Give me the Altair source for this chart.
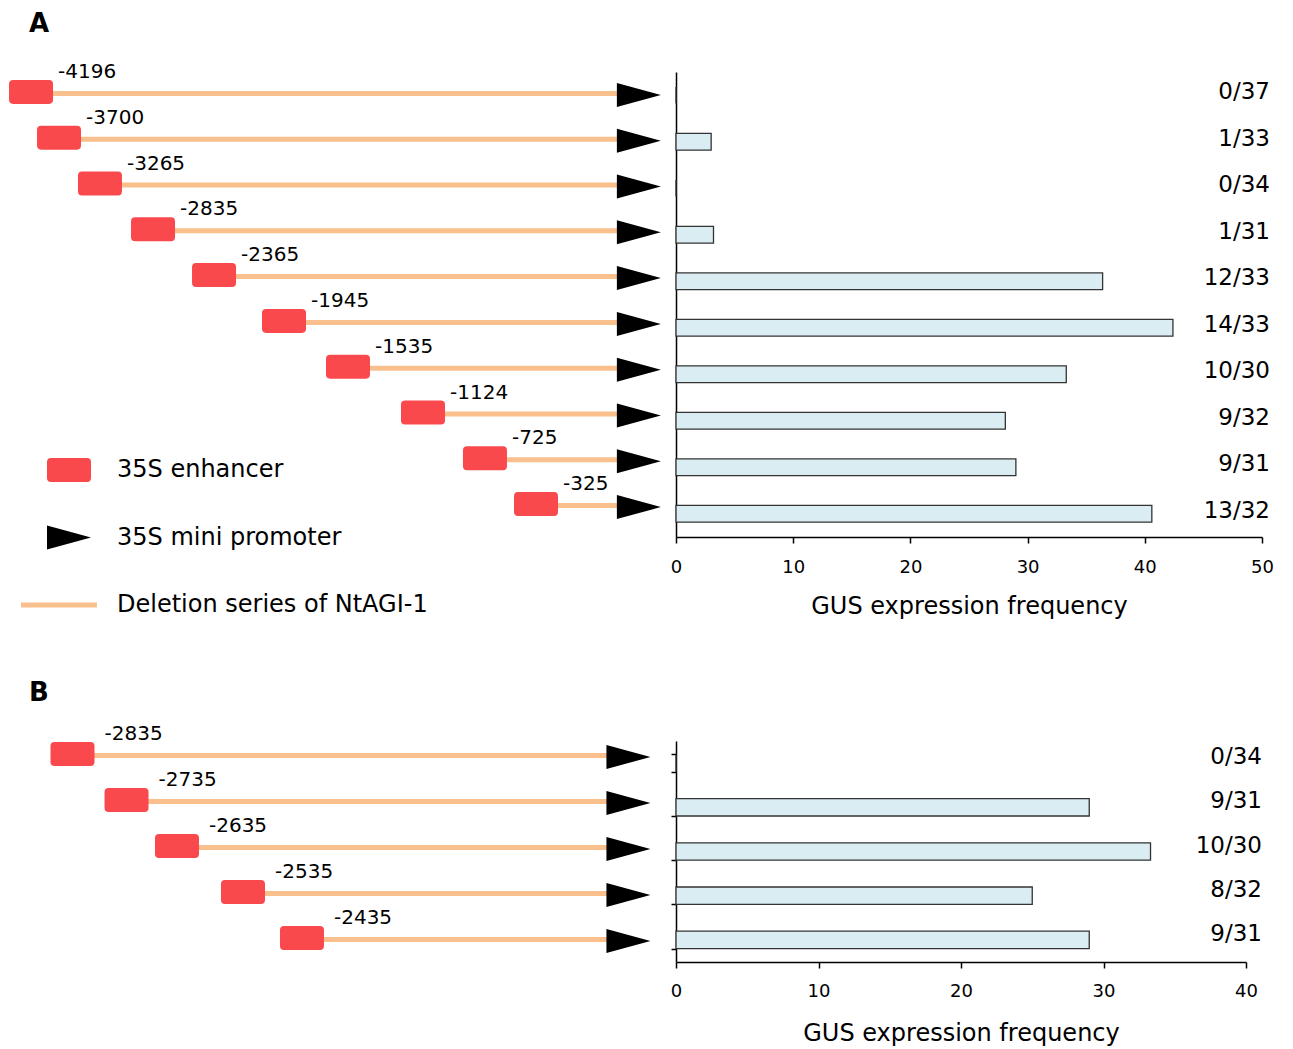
import altair as alt
import pandas as pd

FONT = "DejaVu Sans"

# ---------------- data ----------------
# Panel A: deletion series
a_rows = ["-4196", "-3700", "-3265", "-2835", "-2365", "-1945", "-1535", "-1124", "-725", "-325"]
a_enh_pos = [3.23, 7.53, 13.82, 21.97, 31.34, 42.09, 51.92, 63.44, 72.96, 80.80]   # schematic position of enhancer
a_arrow_pos = 96.6                                                                  # schematic position of promoter
a_fracs = ["0/37", "1/33", "0/34", "1/31", "12/33", "14/33", "10/30", "9/32", "9/31", "13/32"]
a_freq = [0, 3.0, 0, 3.2, 36.4, 42.4, 33.3, 28.1, 29.0, 40.6]

# Panel B: fine deletion series
b_rows = ["-2835", "-2735", "-2635", "-2535", "-2435"]
b_enh_pos = [9.60, 17.90, 25.65, 35.79, 44.85]
b_arrow_pos = 95.0
b_fracs = ["0/34", "9/31", "10/30", "8/32", "9/31"]
b_freq = [0, 29.0, 33.3, 25.0, 29.0]

parts = ["35S enhancer", "35S mini promoter", "Deletion series of NtAGI-1"]
part_colors = ["#f9494c", "#000000", "#f9bf8c"]

# ---------------- styles ----------------
RED, ORANGE, BARFILL = "#f9494c", "#f9bf8c", "#daedf3"
SZ = 1849  # symbol size -> unit = 21.5 px
ENH_PATH = ("M-0.833,-0.558L0.833,-0.558Q1.023,-0.558,1.023,-0.368L1.023,0.368"
            "Q1.023,0.558,0.833,0.558L-0.833,0.558Q-1.023,0.558,-1.023,0.368"
            "L-1.023,-0.368Q-1.023,-0.558,-0.833,-0.558Z")
ARROW_PATH = "M-1.023,-0.558L1.023,0L-1.023,0.558Z"
LINE_PATH = "M-2.23,-0.12L1.3,-0.12L1.3,0.12L-2.23,0.12Z"


def schematic(rows, enh, arrow, width, height, yrange, label_dx, title, title_offset, legend):
    df = pd.DataFrame({"row": rows, "enh": enh, "arrow": [arrow] * len(rows)})
    y = alt.Y("row:N", sort=rows, axis=None,
              scale=alt.Scale(range=yrange, paddingInner=0, paddingOuter=0))
    xs = alt.Scale(domain=[0, 100], nice=False)
    base = alt.Chart(df).encode(y=y)
    shape_enc = alt.Shape("part:N", legend=legend,
                          scale=alt.Scale(domain=parts, range=[ENH_PATH, ARROW_PATH, LINE_PATH]))
    color_enc = alt.Color("part:N", legend=legend,
                          scale=alt.Scale(domain=parts, range=part_colors))
    line = base.mark_rule(color=ORANGE, strokeWidth=5, yOffset=-1.5).encode(
        x=alt.X("enh:Q", scale=xs, axis=None), x2="arrow:Q")
    enh_pts = base.transform_calculate(part="'35S enhancer'").mark_point(
        filled=True, size=SZ, opacity=1, yOffset=-3).encode(
        x=alt.X("enh:Q", scale=xs, axis=None), shape=shape_enc, color=color_enc)
    arr_pts = base.transform_calculate(part="'35S mini promoter'").mark_point(
        filled=True, size=SZ, opacity=1).encode(
        x=alt.X("arrow:Q", scale=xs, axis=None), shape=shape_enc, color=color_enc)
    text = base.mark_text(align="left", baseline="alphabetic", dx=label_dx, dy=-17,
                          fontSize=20, color="black").encode(
        x=alt.X("enh:Q", scale=xs, axis=None), text="row:N")
    return alt.layer(line, enh_pts, arr_pts, text).properties(
        width=width, height=height,
        title=alt.TitleParams(title, anchor="start", frame="group", fontSize=26,
                              fontWeight="bold", baseline="alphabetic",
                              offset=title_offset, dx=19, color="black"))


def bars(rows, freq, fracs, width, height, xmax, pad, ticks, frac_dx, frac_dy, label_pad, title_pad):
    df = pd.DataFrame({"row": rows, "freq": freq, "frac": fracs})
    y = alt.Y("row:N", sort=rows, title=None,
              scale=alt.Scale(paddingInner=pad, paddingOuter=pad / 2),
              axis=alt.Axis(labels=False, ticks=ticks, tickBand="extent", tickSize=5,
                            domainColor="black", domainWidth=1.5, tickColor="black",
                            tickWidth=1.5, grid=False))
    x = alt.X("freq:Q", scale=alt.Scale(domain=[0, xmax], nice=False),
              title="GUS expression frequency",
              axis=alt.Axis(values=list(range(0, xmax + 1, 10)), tickSize=6, tickWidth=1.5,
                            labelFontSize=18, titleFontSize=24, titleFontWeight="normal",
                            labelPadding=label_pad, titlePadding=title_pad, grid=False,
                            labelFlush=False, domainColor="black", domainWidth=1.5,
                            tickColor="black", labelColor="black", titleColor="black",
                            format="d"))
    base = alt.Chart(df).encode(y=y)
    b = base.mark_bar(fill=BARFILL, stroke="#333333", strokeWidth=1.3).encode(x=x)
    t = base.mark_text(align="right", baseline="middle", dx=frac_dx, dy=frac_dy,
                       fontSize=23, color="black").encode(x=alt.datum(xmax), text="frac:N")
    return alt.layer(b, t).properties(width=width, height=height)


legendA = alt.Legend(orient="none", legendX=37.5, legendY=376.5, title=None,
                     symbolSize=SZ, symbolStrokeWidth=0, labelFontSize=24,
                     labelColor="black", labelOffset=26.5, rowPadding=33.5, padding=0,
                     symbolOffset=0, labelLimit=500, direction="vertical")

schemA = schematic(a_rows, a_enh_pos, a_arrow_pos, 651, 465, [0, 458], 27, "A", 4, legendA)
barsA = bars(a_rows, a_freq, a_fracs, 586, 465, 50, 0.64, False, 8, -3, 15, 18)
schemB = schematic(b_rows, b_enh_pos, b_arrow_pos, 651, 221, [-7, 223], 32, "B", -3, None)
barsB = bars(b_rows, b_freq, b_fracs, 570, 221, 40, 0.606, True, 16, -6, 14, 21)

chart = alt.concat(
    schemA, barsA, schemB, barsB, columns=2,
    spacing={"row": 204, "column": 15}, bounds="flush", align="none"
).properties(
    padding={"left": 0, "top": 2, "right": 5, "bottom": 0}
).configure(font=FONT).configure_view(stroke="transparent")

chart.save("out.html", embed_options={"renderer": "svg", "actions": False})
